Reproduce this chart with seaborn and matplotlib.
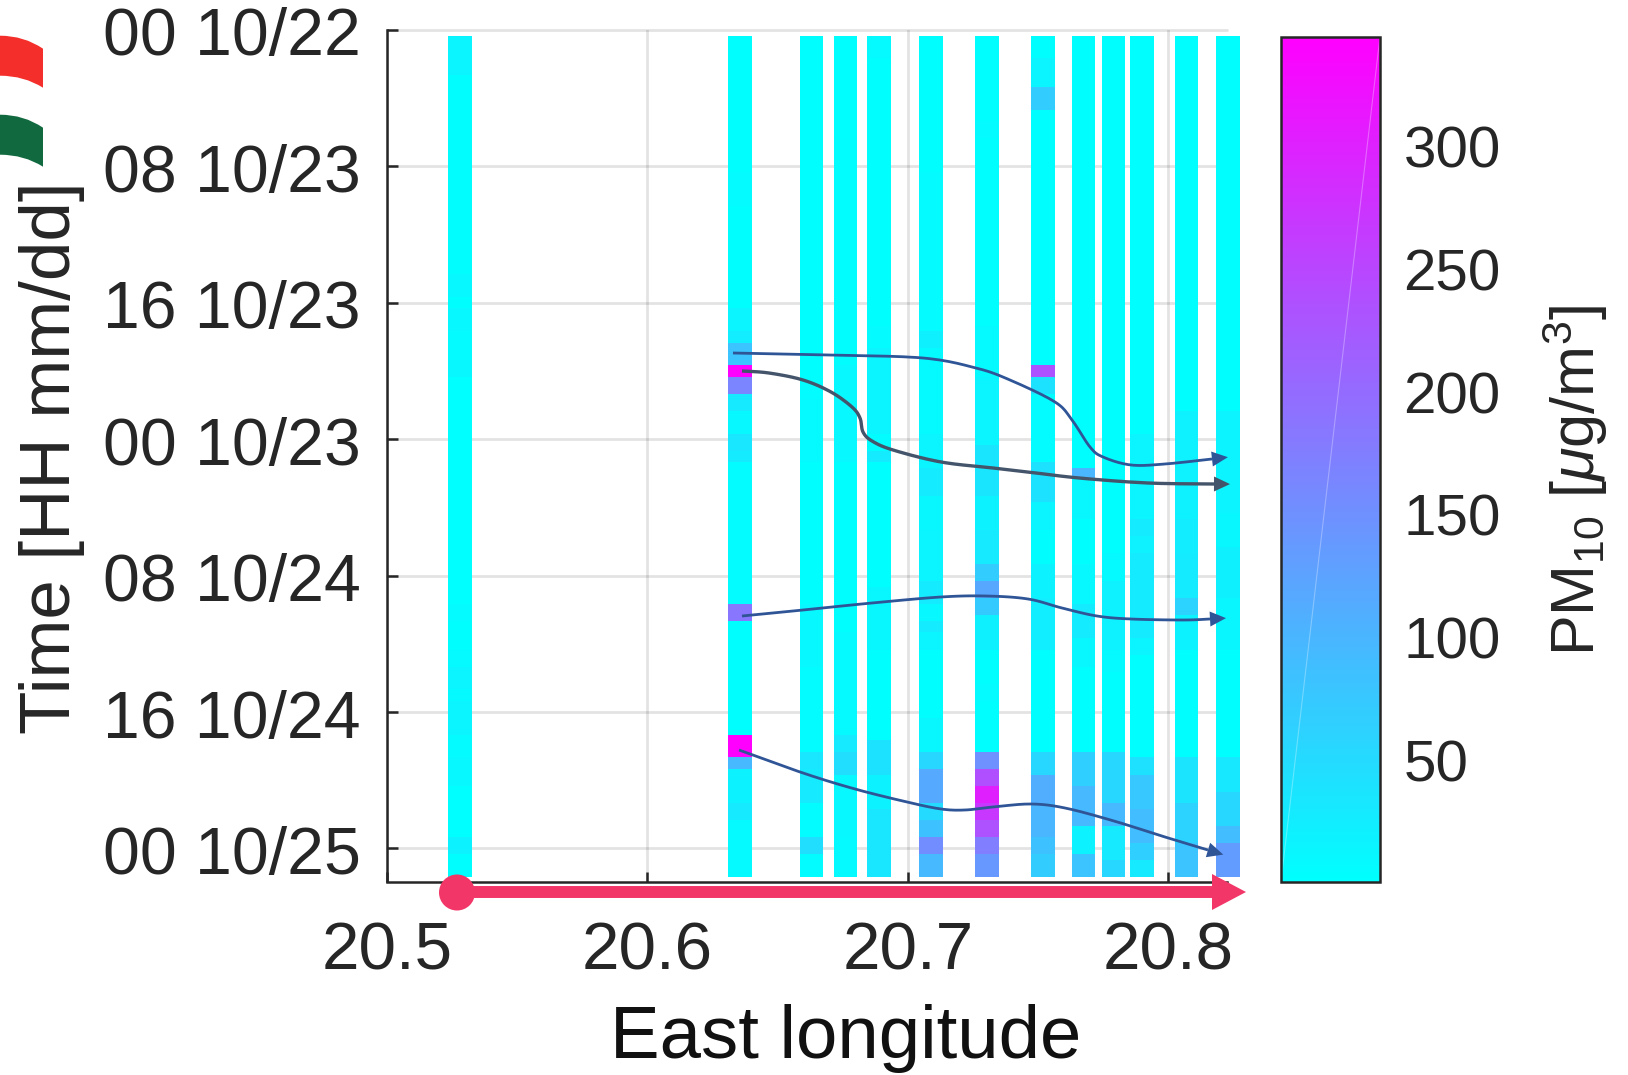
import numpy as np
import pandas as pd
import matplotlib.pyplot as plt
import seaborn as sns
from matplotlib.lines import Line2D
from matplotlib.patches import Circle, PathPatch, Polygon
from matplotlib.path import Path
from matplotlib.transforms import Affine2D

# station longitudes
STATION_LON = [20.5278, 20.6354, 20.6631, 20.6762, 20.6889, 20.7089, 20.7304,
               20.7519, 20.7677, 20.7788, 20.7900, 20.8072, 20.8230]

# each station: hours after the first sample where the value changes, and PM10
H_A = [0, 2.33, 14, 15.33, 16, 17.33, 19, 20, 33.33, 34.33, 36, 37, 38.33, 39, 41, 42.33, 44, 47, 48]
PM_A = [14, 4, 10, 3, 10, 6, 12, 1, 6, 2, 8, 14, 8, 14, 7, 10, 1, 18, 2]
H_B = [0, 8, 10, 16, 17.33, 18, 19.33, 20, 21, 22, 23.33, 24.33, 25, 33.33, 34.33, 41, 42.33, 43, 45, 46]
PM_B = [3, 6, 3, 15, 25, 80, 345, 165, 30, 10, 35, 28, 5, 185, 3, 345, 95, 18, 30, 8]
H_C = [0, 20.33, 21.33, 25, 33.33, 37, 42, 43, 45, 47, 48]
PM_C = [2, 5, 8, 2, 10, 5, 35, 30, 5, 45, 5]
H_D = [0, 6, 19.33, 25, 35, 41, 42, 43.33, 47]
PM_D = [2, 4, 10, 3, 8, 30, 45, 10, 8]
H_E = [0, 1.33, 17, 18.33, 23.33, 24.33, 25, 32.33, 36, 41.33, 43.33, 45.33]
PM_E = [8, 3, 7, 14, 5, 28, 3, 12, 3, 40, 18, 35]
H_F = [0, 8, 17.33, 18.33, 23.33, 25.33, 27, 29, 32, 33.33, 34.33, 35, 36, 40, 42, 43, 45, 46, 47, 48]
PM_F = [2, 6, 22, 8, 15, 28, 12, 14, 28, 10, 28, 15, 3, 12, 55, 115, 50, 85, 155, 95]
H_G = [0, 5, 6, 17, 20, 24, 27, 29, 31, 32, 33, 34, 36, 38, 39, 42, 43, 44, 45, 46, 47, 48]
PM_G = [2, 6, 3, 8, 14, 36, 18, 30, 70, 120, 72, 22, 2, 6, 2, 150, 238, 303, 270, 235, 175, 140]
H_H = [0, 1.33, 3, 4.33, 19.33, 20, 21, 25, 27.33, 29, 31, 33, 36, 42, 43.33, 45, 47, 48]
PM_H = [2, 15, 70, 2, 233, 40, 5, 40, 15, 4, 18, 24, 2, 55, 110, 100, 85, 70]
H_I = [0, 25.33, 26, 28.33, 31, 33.33, 35.33, 37, 42, 44, 46.33, 48]
PM_I = [2, 100, 12, 3, 10, 28, 12, 2, 65, 95, 18, 80]
H_J = [0, 30.33, 32, 36, 37.33, 42, 45, 46.33, 48.33]
PM_J = [3, 8, 20, 8, 2, 55, 95, 30, 55]
H_K = [0, 23.33, 28.33, 29.33, 30.33, 35.33, 36.33, 42.33, 43.33, 45.33, 47.33, 48.33]
PM_K = [2, 14, 28, 20, 28, 14, 2, 42, 75, 90, 65, 30]
H_L = [0, 22, 28.33, 30.33, 33, 34, 36, 42.33, 45, 47.33]
PM_L = [2, 20, 25, 28, 60, 18, 2, 38, 60, 80]
H_M = [0, 22, 28, 30, 33, 36, 42.33, 44.33, 46.33, 47.33]
PM_M = [2, 16, 12, 22, 13, 2, 32, 55, 90, 135]

STATION_HOURS = [H_A, H_B, H_C, H_D, H_E, H_F, H_G, H_H, H_I, H_J, H_K, H_L, H_M]
STATION_PM = [PM_A, PM_B, PM_C, PM_D, PM_E, PM_F, PM_G, PM_H, PM_I, PM_J, PM_K, PM_L, PM_M]

X_TICKS = [20.5, 20.6, 20.7, 20.8]
Y_TICK_HOURS = [0, 8, 16, 24, 32, 40, 48]
Y_TICK_LABELS = ["00 10/22", "08 10/23", "16 10/23", "00 10/23", "08 10/24", "16 10/24", "00 10/25"]
CBAR_TICKS = [50, 100, 150, 200, 250, 300]

# arrows drawn over the chart, picture pixels
ARROW_1 = [(733, 353), (829, 355), (923, 358), (976, 368), (1010, 380), (1055, 402), (1072, 420),
           (1090, 447), (1103, 457), (1131, 465), (1165, 464), (1212, 459)]
ARROW_2 = [(742, 371), (769, 373), (803, 380), (831, 392), (852, 407), (860, 418), (863, 432),
           (872, 441), (893, 450), (941, 462), (993, 468), (1028, 472), (1079, 478), (1148, 483), (1214, 484)]
ARROW_3 = [(742, 616), (803, 610), (872, 603), (941, 597), (986, 596), (1028, 599), (1062, 608),
           (1097, 616), (1131, 619), (1183, 620), (1210, 619)]
ARROW_4 = [(739, 750), (803, 773), (855, 789), (907, 802), (941, 809), (965, 810), (993, 807),
           (1031, 804), (1065, 808), (1114, 821), (1165, 837), (1208, 850)]

BLUE = "#2f5597"
SLATE = "#44546a"
PINK = "#f23668"
INK = "#262626"

sns.set_theme(style="ticks")
plt.rcParams["font.family"] = ["Liberation Sans", "DejaVu Sans"]
plt.rcParams["mathtext.fontset"] = "custom"
plt.rcParams["mathtext.rm"] = "Liberation Sans"
plt.rcParams["mathtext.it"] = "Liberation Sans:italic"
plt.rcParams["mathtext.bf"] = "Liberation Sans:bold"

W, H = 1628, 1075
LON_STEP = 0.0005
SUB = 3  # grid rows per hour


def to_col(lon):
    return (lon - 20.5) / LON_STEP


def to_row(hour):
    return hour * SUB - 1


# fill a fine lon/time grid, empty where there is no station
grid = np.full((148, 700), np.nan)
for lon, hours, pm in zip(STATION_LON, STATION_HOURS, STATION_PM):
    c = int(round(to_col(lon)))
    starts = [int(round(h * SUB)) for h in hours] + [grid.shape[0]]
    for i, val in enumerate(pm):
        grid[starts[i]:starts[i + 1], c - 9:c + 9] = val
df = pd.DataFrame(grid)

fig = plt.figure(figsize=(W / 100, H / 100), dpi=100)
ax = fig.add_axes([387 / W, 1 - 881.5 / H, 840 / W, 851.5 / H])
cax = fig.add_axes([1281 / W, 1 - 881.5 / H, 99 / W, 845 / H])

sns.heatmap(df, ax=ax, cbar_ax=cax, cmap="cool", vmin=0.5, vmax=345, mask=df.isna(),
            xticklabels=False, yticklabels=False)
ax.collections[0].set_clip_on(False)

ax.set_xlim(0, to_col(20.8226))
ax.set_ylim(to_row(49.94), to_row(0))
ax.set_xticks([to_col(v) for v in X_TICKS])
ax.set_xticklabels([f"{v:.1f}" for v in X_TICKS])
ax.set_yticks([to_row(v) for v in Y_TICK_HOURS])
ax.set_yticklabels(Y_TICK_LABELS)
ax.tick_params(axis="x", direction="in", length=7, width=1.8, labelsize=48.5, pad=29, colors=INK)
ax.tick_params(axis="y", direction="in", length=8, width=1.8, labelsize=47.6, pad=19, colors=INK)
for label in ax.get_yticklabels():
    label.set_transform(label.get_transform() + Affine2D().translate(0, -1.5))

ax.set_axisbelow(True)
ax.grid(True, color="black", alpha=0.11, linewidth=2)
for line in ax.get_ygridlines():
    line.set_clip_on(False)

for side in ["top", "right"]:
    ax.spines[side].set_visible(False)
for side in ["left", "bottom"]:
    ax.spines[side].set_visible(True)
    ax.spines[side].set_color(INK)
    ax.spines[side].set_linewidth(1.8)

ax.set_xlabel("East longitude", fontsize=53.6, color="#111111", va="center")
ax.xaxis.set_label_coords(0.546, -0.184)
ax.set_ylabel("Time [HH mm/dd]", fontsize=51, color=INK, va="center")
ax.yaxis.set_label_coords(-0.399, 0.498)

# colorbar
cbar = ax.collections[0].colorbar
cbar.set_ticks(CBAR_TICKS)
cbar.outline.set_visible(True)
cbar.outline.set_linewidth(1.8)
cbar.outline.set_edgecolor(INK)
cax.tick_params(axis="y", direction="in", length=7, width=1.5, labelsize=42, pad=17, colors=INK, right=True)
cax.set_ylabel(r"PM$_{10}$ [$\mu$g/m$^3$]", fontsize=44, color=INK, va="center")
cax.yaxis.set_label_coords(2.97, 0.475)
cax.plot([0, 1], [0, 1], transform=cax.transAxes, color="white", alpha=0.3, linewidth=0.8)

# everything below is placed in picture pixels, y going down
px = Affine2D().scale(1, -1).translate(0, H)


def smooth(points, n=12):
    pts = np.array(points, dtype=float)
    pts = np.vstack([pts[0], pts, pts[-1]])
    out = []
    for i in range(1, len(pts) - 2):
        p0, p1, p2, p3 = pts[i - 1], pts[i], pts[i + 1], pts[i + 2]
        for t in np.linspace(0, 1, n, endpoint=False):
            out.append(0.5 * (2 * p1 + (p2 - p0) * t + (2 * p0 - 5 * p1 + 4 * p2 - p3) * t ** 2
                              + (3 * p1 - p0 - 3 * p2 + p3) * t ** 3))
    out.append(pts[-2])
    return np.array(out)


def draw_arrow(points, color, lw, head_len=16, head_w=15):
    curve = smooth(points)
    fig.add_artist(Line2D(curve[:, 0], curve[:, 1], color=color, linewidth=lw, transform=px,
                          solid_capstyle="butt"))
    end = curve[-1]
    d = end - curve[-6]
    d = d / np.linalg.norm(d)
    n = np.array([-d[1], d[0]])
    head = [end + d * head_len, end + n * head_w / 2, end - n * head_w / 2]
    fig.add_artist(Polygon(head, closed=True, facecolor=color, edgecolor="none", transform=px))


draw_arrow(ARROW_1, BLUE, 2.0)
draw_arrow(ARROW_2, SLATE, 2.4)
draw_arrow(ARROW_3, BLUE, 2.0)
draw_arrow(ARROW_4, BLUE, 2.0)

# pink axis arrow
fig.add_artist(Line2D([457, 1214], [892, 892], color=PINK, linewidth=8.6, transform=px,
                      solid_capstyle="butt"))
fig.add_artist(Circle((457, 892.5), 18, facecolor=PINK, edgecolor="none", transform=px))
fig.add_artist(Polygon([(1212, 874), (1246, 892), (1212, 910)], closed=True, facecolor=PINK,
                       edgecolor="none", transform=px))

# cropped marks on the left edge
for top, color in [(35.7, "#f42e2a"), (114.7, "#11693f")]:
    verts = [(0, top), (24, top), (43, top + 13), (43, top + 52), (24, top + 40), (0, top + 40), (0, top)]
    codes = [Path.MOVETO, Path.CURVE3, Path.CURVE3, Path.LINETO, Path.CURVE3, Path.CURVE3, Path.CLOSEPOLY]
    fig.add_artist(PathPatch(Path(verts, codes), facecolor=color, edgecolor="none", transform=px))

fig.savefig("out.png", dpi=100)
plt.close(fig)
